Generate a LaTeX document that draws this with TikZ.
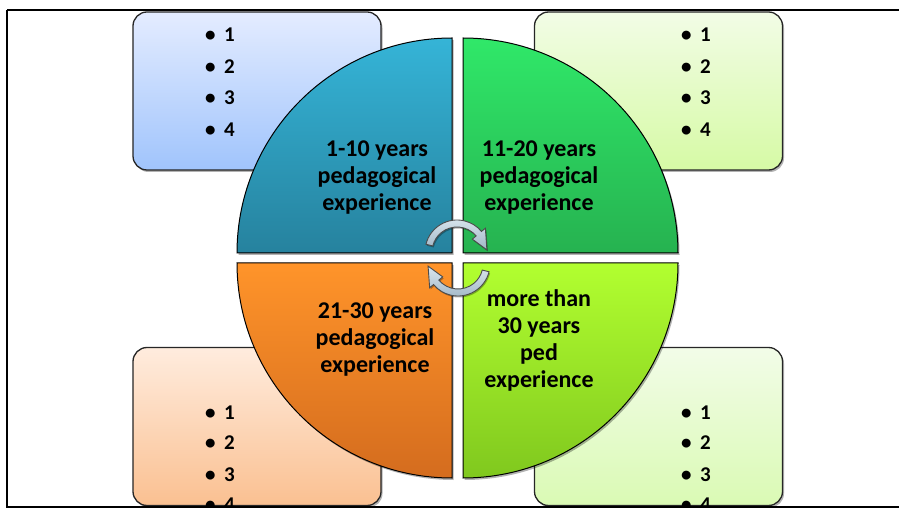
\documentclass[tikz,border=0pt]{standalone}
\usepackage{fontspec}
\setmainfont{Carlito}
\usetikzlibrary{shadows}
\definecolor{tealTop}{RGB}{53,180,215}
\definecolor{tealBot}{RGB}{38,130,158}
\definecolor{greenTop}{RGB}{48,232,105}
\definecolor{greenBot}{RGB}{38,178,80}
\definecolor{orangeTop}{RGB}{255,148,42}
\definecolor{orangeBot}{RGB}{212,108,30}
\definecolor{limeTop}{RGB}{178,255,48}
\definecolor{limeBot}{RGB}{128,200,30}
\definecolor{boxAtop}{RGB}{228,236,255}
\definecolor{boxAbot}{RGB}{160,196,252}
\definecolor{boxBtop}{RGB}{242,252,230}
\definecolor{boxBbot}{RGB}{214,250,165}
\definecolor{boxCtop}{RGB}{255,236,222}
\definecolor{boxCbot}{RGB}{250,192,145}
\definecolor{boxDtop}{RGB}{242,252,232}
\definecolor{boxDbot}{RGB}{218,250,180}
\definecolor{arrTop}{RGB}{218,230,238}
\definecolor{arrBot}{RGB}{160,182,198}
\begin{document}
\begin{tikzpicture}[x=1pt,y=1pt,
  quad/.style={draw=black, line width=1pt,
    drop shadow={shadow xshift=1.5pt, shadow yshift=-2pt, opacity=0.3, fill=black}},
  infobox/.style={draw=black!85, line width=1.3pt, rounded corners=14pt,
    minimum width=248pt, minimum height=158pt, inner sep=0pt,
    drop shadow={shadow xshift=1.5pt, shadow yshift=-2pt, opacity=0.3, fill=black}},
  qlabel/.style={align=center, font=\fontsize{24}{27}\selectfont\bfseries, inner sep=0pt},
  blabel/.style={anchor=base west, font=\fontsize{21}{24}\selectfont\bfseries, inner sep=0pt},
  arrowshape/.style={draw=black!70, line width=0.9pt, top color=arrTop, bottom color=arrBot,
    drop shadow={shadow xshift=1pt, shadow yshift=-1.5pt, opacity=0.3, fill=black}}
]
\useasboundingbox (0,0) rectangle (899,509);
\fill[white] (0,0) rectangle (899,509);
\begin{scope}
\clip (0,2.5) rectangle (899,509);
% info boxes
\node[infobox, top color=boxAtop, bottom color=boxAbot] (boxA) at (257,418) {};
\node[infobox, top color=boxBtop, bottom color=boxBbot] (boxB) at (658.5,418) {};
\node[infobox, top color=boxCtop, bottom color=boxCbot] (boxC) at (257,82.5) {};
\node[infobox, top color=boxDtop, bottom color=boxDbot] (boxD) at (658.5,82.5) {};
% bullet lists
\foreach \n/\yy in {1/467.5,2/435.5,3/404.5,4/372.5}{
  \node[blabel] (a\n) at (205,\yy) {•\kern8.5pt\n};
  \node[blabel] (b\n) at (681,\yy) {•\kern8.5pt\n};
}
\foreach \n/\yy in {1/89.5,2/59.5,3/27.5,4/-2.5}{
  \node[blabel] (c\n) at (205,\yy) {•\kern8.5pt\n};
  \node[blabel] (d\n) at (681,\yy) {•\kern8.5pt\n};
}
% quadrants
\path[quad, top color=tealTop, bottom color=tealBot]
  (452,256) -- (237,256) arc[start angle=180, end angle=90, radius=215] -- cycle;
\path[quad, top color=greenTop, bottom color=greenBot]
  (463,256) -- (463,471) arc[start angle=90, end angle=0, radius=215] -- cycle;
\path[quad, top color=orangeTop, bottom color=orangeBot]
  (452,246) -- (237,246) arc[start angle=180, end angle=270, radius=215] -- cycle;
\path[quad, top color=limeTop, bottom color=limeBot]
  (463,246) -- (678,246) arc[start angle=0, end angle=-90, radius=215] -- cycle;
% labels
\node[qlabel] (q1) at (377,331) {1-10 years\\pedagogical\\experience};
\node[qlabel] (q2) at (539,331) {11-20 years\\pedagogical\\experience};
\node[qlabel] (q3) at (375,169) {21-30 years\\pedagogical\\experience};
\node[qlabel] (q4) at (539,169) {more than\\30 years\\ped\\experience};
% circular arrows
\begin{scope}[shift={(457,257)}]
\path[arrowshape] (166:32) arc[start angle=166, end angle=40, radius=32]
  -- (40:37) -- (4:30) -- (40:20) -- (40:25)
  arc[start angle=40, end angle=166, radius=25] -- cycle;
\end{scope}
\begin{scope}[shift={(458,245)}, rotate=180]
\path[arrowshape] (166:32) arc[start angle=166, end angle=40, radius=32]
  -- (40:37) -- (4:30) -- (40:20) -- (40:25)
  arc[start angle=40, end angle=166, radius=25] -- cycle;
\end{scope}
\end{scope}
% frame
\draw[line width=2pt] (899,499) -- (7,499);
\draw[line width=1.6pt] (7,499) -- (7,2) -- (899,2);
\end{tikzpicture}
\end{document}
